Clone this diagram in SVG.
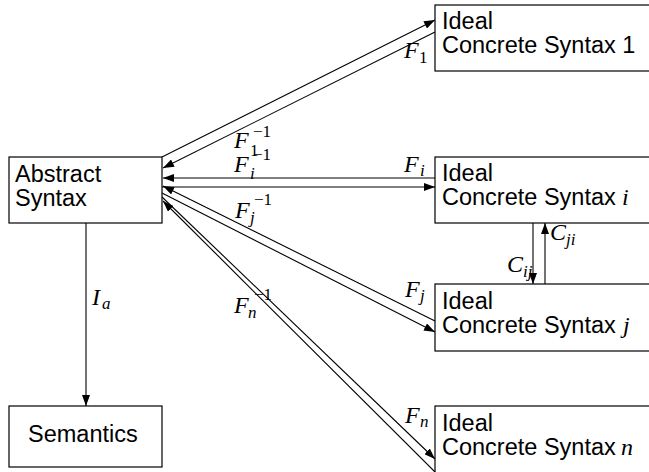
<svg xmlns="http://www.w3.org/2000/svg" width="649" height="472" viewBox="0 0 649 472">
<style>
.box{fill:#fff;stroke:#000;stroke-width:1.2}
.t{font-family:"Liberation Sans",Arial,sans-serif;font-size:23.5px;fill:#000}
.m{font-family:"Liberation Serif","Times New Roman",serif;font-style:italic;font-size:24px;fill:#000}
.s{font-family:"Liberation Serif","Times New Roman",serif;font-size:17px;fill:#000}
.si{font-family:"Liberation Serif","Times New Roman",serif;font-style:italic;font-size:17px;fill:#000}
.c{fill:none;stroke:#000;stroke-width:1.1;marker-end:url(#ah)}
</style>
<defs>
<marker id="ah" markerUnits="userSpaceOnUse" markerWidth="12" markerHeight="8" refX="11" refY="4" orient="auto">
<path d="M0,0 L11,4 L0,8 Z" fill="#000"/>
</marker>
</defs>
<g id="abstract">
<rect class="box" x="9" y="157" width="153" height="66"/>
<text class="t" x="15" y="181.5">Abstract</text>
<text class="t" x="15" y="205.5">Syntax</text>
</g>
<g id="semantics">
<rect class="box" x="9" y="406" width="153" height="61"/>
<text class="t" x="28" y="442">Semantics</text>
</g>
<g id="cs1">
<rect class="box" x="435" y="5" width="230" height="66"/>
<text class="t" x="442" y="29">Ideal</text>
<text class="t" x="442" y="53">Concrete Syntax 1</text>
</g>
<g id="csi">
<rect class="box" x="435" y="157" width="230" height="66"/>
<text class="t" x="442" y="180.5">Ideal</text>
<text class="t" x="442" y="204.5">Concrete Syntax</text>
<text class="m" x="622" y="204.5">i</text>
</g>
<g id="csj">
<rect class="box" x="435" y="284" width="230" height="67"/>
<text class="t" x="442" y="309">Ideal</text>
<text class="t" x="442" y="333">Concrete Syntax</text>
<text class="m" x="623" y="333">j</text>
</g>
<g id="csn">
<rect class="box" x="435" y="406" width="230" height="80"/>
<text class="t" x="442" y="430.5">Ideal</text>
<text class="t" x="442" y="454.5">Concrete Syntax</text>
<text class="m" x="621" y="454.5">n</text>
</g>
<g id="connectors">
<line class="c" x1="162" y1="157" x2="435" y2="20"/>
<line class="c" x1="435" y1="32" x2="163" y2="168"/>
<line class="c" x1="435" y1="178" x2="163" y2="178"/>
<line class="c" x1="162" y1="187" x2="435" y2="187"/>
<line class="c" x1="435" y1="321" x2="163" y2="186"/>
<line class="c" x1="162" y1="193" x2="435" y2="332"/>
<line class="c" x1="162" y1="197" x2="435" y2="459"/>
<line class="c" x1="435" y1="472" x2="163" y2="201"/>
<line class="c" x1="86" y1="223" x2="86" y2="406"/>
<line class="c" x1="533" y1="223" x2="533" y2="284"/>
<line class="c" x1="545" y1="284" x2="545" y2="223"/>
</g>
<g id="labels">
<text class="m" x="404" y="58">F</text><text class="s" x="419" y="63">1</text>
<text class="m" x="234" y="148">F</text><text class="s" x="250" y="156">1</text><text class="s" x="253" y="137">−1</text>
<text class="m" x="234" y="172">F</text><text class="si" x="250" y="179">i</text><text class="s" x="253" y="160">−1</text>
<text class="m" x="404" y="172">F</text><text class="si" x="420" y="176">i</text>
<text class="m" x="235" y="218">F</text><text class="si" x="250" y="223">j</text><text class="s" x="254" y="205">−1</text>
<text class="m" x="405" y="297">F</text><text class="si" x="420" y="301">j</text>
<text class="m" x="234" y="313">F</text><text class="si" x="248" y="318">n</text><text class="s" x="254" y="300">−1</text>
<text class="m" x="405" y="423">F</text><text class="si" x="420" y="427">n</text>
<text class="m" x="92" y="305">I</text><text class="si" x="102" y="309">a</text>
<text class="m" x="550" y="240">C</text><text class="si" x="566" y="245">ji</text>
<text class="m" x="507" y="272">C</text><text class="si" x="523" y="277">ij</text>
</g>
</svg>
